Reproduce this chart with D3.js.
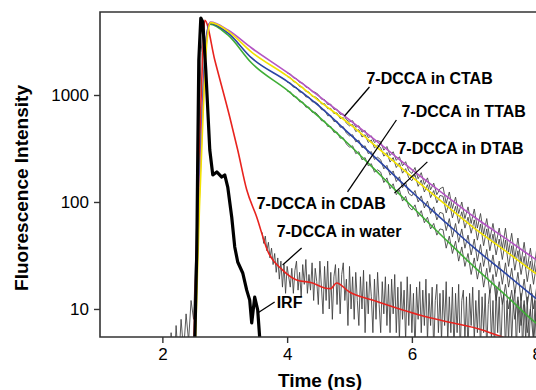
<!DOCTYPE html>
<html>
<head>
<meta charset="utf-8">
<script src="https://cdn.jsdelivr.net/npm/d3@7"></script>
<style>
  body { margin: 0; background: #fff; }
  svg { display: block; font-family: 'Liberation Sans', Arial, sans-serif; }
  .tick text { font-size: 17px; fill: #000; }
  .tick line, .domain { stroke: #333; }
  .title { font-size: 19px; font-weight: bold; }
  .note { font-size: 16px; font-weight: bold; }
</style>
</head>
<body>
<script>
'use strict'

const xTicks = [2, 4, 6, 8]
const yTicks = [10, 100, 1000]

// instrument response function (time ns, counts)
const irf = [[2.52, 5], [2.552, 36], [2.568, 306], [2.584, 2124], [2.616, 5240], [2.648, 4810],
  [2.696, 1713], [2.76, 306], [2.808, 179], [2.872, 191], [2.952, 171], [3.0, 179],
  [3.048, 138], [3.112, 72], [3.16, 38], [3.208, 27.5], [3.288, 21.7], [3.352, 15],
  [3.4, 12.1], [3.432, 7.4], [3.48, 12.9], [3.528, 9.8], [3.56, 5.4], [3.6, 4.5]]

// fitted decays (time ns, counts)
const fitWater = [[2.505, 5], [2.57, 104], [2.62, 898], [2.65, 2634], [2.68, 5000], [2.84, 2124],
  [3.08, 623], [3.208, 306], [3.352, 130], [3.512, 72.4], [3.688, 34.8], [3.928, 23.1],
  [4.152, 18.7], [4.408, 17.5], [4.6, 15.7], [4.7, 15.5], [4.792, 17.5], [5.0, 14.4],
  [5.368, 12.1], [5.752, 10.2], [6.12, 8.79], [6.584, 7.56], [7.128, 6.37], [7.448, 5.47], [7.72, 4.8]]
const fitCTAB = [[2.52, 5], [2.585, 90], [2.645, 700], [2.71, 3300], [2.77, 4800], [3.05, 4050],
  [3.43, 2750], [4, 1626], [4.5, 989], [5, 584], [5.5, 345], [6, 201], [6.5, 120], [7, 72.4],
  [7.5, 45.7], [8, 28.7], [8.2, 24.2]]
const fitTTAB = [[2.53, 5], [2.595, 90], [2.655, 700], [2.715, 3200], [2.775, 4750], [3.05, 3960],
  [3.43, 2520], [4, 1507], [4.5, 892], [5, 536], [5.5, 304], [6, 172], [6.5, 98.4], [7, 57.1],
  [7.5, 34.9], [8, 21.2], [8.2, 17.5]]
const fitCDAB = [[2.515, 5], [2.58, 90], [2.64, 700], [2.70, 3200], [2.76, 4700], [3.05, 3800],
  [3.43, 2220], [4, 1341], [4.5, 800], [5, 433], [5.5, 233], [6, 124], [6.5, 67.8], [7, 37.2],
  [7.5, 21.5], [8, 12.4], [8.2, 10]]
const fitDTAB = [[2.515, 5], [2.58, 90], [2.64, 700], [2.70, 3150], [2.76, 4600], [3.05, 3640],
  [3.43, 1990], [4, 1111], [4.5, 631], [5, 341], [5.5, 177], [6, 90.8], [6.5, 47.1], [7, 24.7],
  [7.5, 13.5], [8, 7.3], [8.2, 6]]

// measured counts, one value per channel
const riseT0 = 2.10
const riseStep = 0.04
const riseData = [1, 6, 2, 7, 3, 8, 4, 9, 5, 12, 8, 40, 300, 2500, 4600]

const waterT0 = 3.6
const waterStep = 0.025
const waterData = [52, 41, 48, 35, 42, 30, 37, 26, 33, 22, 30, 19, 28, 16, 26, 14, 25, 20, 16, 24,
  14, 23, 28, 15, 22, 13, 26, 17, 29, 14, 21, 15, 27, 12, 24, 18, 11, 28, 16, 9,
  25, 12, 28, 10, 22, 8, 20, 26, 11, 24, 9, 21, 27, 12, 19, 7, 25, 10, 20, 8,
  22, 12, 7, 20, 10, 23, 6, 18, 9, 21, 13, 6, 19, 8, 22, 11, 6, 18, 9, 20,
  7, 17, 6, 19, 9, 21, 6, 16, 5, 18, 8, 15, 5, 20, 7, 17, 6, 14, 4, 16,
  8, 18, 6, 15, 7, 19, 5, 14, 7, 16, 4, 12, 17, 6, 14, 5, 15, 7, 18, 5,
  13, 6, 16, 4, 14, 6, 17, 4, 12, 15, 5, 13, 4, 14, 7, 16, 5, 12, 6, 15,
  4, 13, 6, 14, 4, 11, 15, 5, 12, 4, 16, 6, 13, 4, 11, 14, 4, 12, 5, 13,
  5, 11, 15, 4, 12, 6, 14, 4, 11, 5, 13, 4, 10, 14, 5, 12, 4, 11, 5, 13,
  4, 10, 12, 5, 11]

const surfT0 = 4.0
const surfStep = 0.05
const dataCTAB = [1610, 1575, 1450, 1420, 1310, 1290, 1185, 1170, 1075, 1060,
  1010, 915, 905, 815, 820, 735, 735, 660, 665, 590,
  560, 575, 500, 515, 450, 465, 400, 415, 360, 375,
  365, 305, 330, 272, 295, 245, 265, 218, 238, 196,
  185, 210, 165, 188, 146, 168, 130, 150, 117, 133,
  138, 97, 124, 87, 111, 78, 100, 70, 90, 63,
  86, 57, 78, 50, 70, 45, 63, 41, 57, 37,
  57, 34, 51, 30, 46, 27, 42, 24, 37, 22,
  36, 21, 33, 19, 30]
const dataTTAB = [1490, 1455, 1335, 1310, 1200, 1180, 1080, 1065, 970, 960,
  915, 825, 830, 745, 750, 670, 680, 603, 615, 545,
  515, 530, 455, 475, 405, 425, 360, 380, 320, 340,
  322, 268, 290, 236, 260, 210, 232, 186, 205, 168,
  158, 180, 140, 160, 124, 145, 110, 128, 98, 115,
  113, 79, 101, 71, 91, 63, 81, 57, 72, 51,
  68, 44, 62, 39, 56, 35, 50, 32, 45, 29,
  44, 25, 39, 23, 35, 21, 31, 18, 28, 17,
  27, 15, 24, 13, 22]
const dataCDAB = [1320, 1300, 1185, 1175, 1065, 1060, 960, 955, 865, 860,
  820, 730, 725, 640, 645, 565, 570, 500, 505, 440,
  415, 425, 365, 378, 322, 335, 283, 296, 250, 262,
  248, 204, 220, 178, 195, 155, 172, 136, 152, 120,
  114, 128, 100, 114, 88, 102, 78, 90, 68, 80,
  78, 54, 70, 47, 63, 42, 56, 37, 49, 32,
  45, 28, 40, 25, 36, 22, 32, 20, 28, 17,
  27, 16, 24, 14, 22, 12, 19, 11, 17, 10,
  16, 9, 14, 8, 12]
const dataDTAB = [1090, 1075, 970, 960, 865, 860, 770, 770, 690, 690,
  648, 575, 573, 508, 508, 448, 450, 395, 398, 348,
  325, 335, 283, 295, 248, 260, 218, 228, 190, 200,
  190, 152, 168, 133, 148, 117, 130, 102, 113, 90,
  84, 94, 73, 83, 64, 72, 56, 63, 49, 56,
  55, 37, 48, 33, 43, 28, 38, 25, 33, 21,
  30, 19, 27, 16, 24, 14, 21, 12, 18, 11,
  17, 10, 15, 8, 13, 7, 12, 6, 10, 5,
  10, 6, 9, 5, 8]

// annotation text anchors and leader lines, in data units
const notes = [
  { text: '7-DCCA in CTAB', t: 5.272, v: 1267 },
  { text: '7-DCCA in TTAB', t: 5.832, v: 623 },
  { text: '7-DCCA in DTAB', t: 5.768, v: 281 },
  { text: '7-DCCA in CDAB', t: 3.512, v: 86 },
  { text: '7-DCCA in water', t: 3.832, v: 47.1 },
  { text: 'IRF', t: 3.832, v: 10.2 }
]
const leaders = [
  [[5.32, 1188], [4.92, 637]],
  [[5.752, 584], [4.968, 124]],
  [[6.248, 237], [5.72, 121]],
  [[4.232, 37.2], [3.928, 25.8]],
  [[3.8, 11.6], [3.528, 9.18]]
]

const width = 536
const height = 390
const margin = { top: 12, left: 100, bottom: 53 }
const plotRight = 546

const svg = d3.select('body').append('svg')
  .attr('width', width)
  .attr('height', height)

const scaleX = d3.scaleLinear().domain([1, 8.15]).range([margin.left, plotRight])
const scaleY = d3.scaleLog().domain([5.47, 5968]).range([height - margin.bottom, margin.top])

svg.append('clipPath').attr('id', 'clip')
  .append('rect')
  .attr('x', margin.left).attr('y', margin.top)
  .attr('width', plotRight - margin.left)
  .attr('height', height - margin.bottom - margin.top)

const line = d3.line()
  .x(function (d) { return scaleX(d[0]) })
  .y(function (d) { return scaleY(d[1]) })
const smooth = d3.line()
  .curve(d3.curveMonotoneX)
  .x(function (d) { return scaleX(d[0]) })
  .y(function (d) { return scaleY(d[1]) })

function channels (t0, step, counts) {
  return counts.map(function (c, i) { return [t0 + i * step, c] })
}

const panel = svg.append('g').attr('clip-path', 'url(#clip)')

const measured = [
  channels(riseT0, riseStep, riseData),
  channels(waterT0, waterStep, waterData),
  channels(surfT0, surfStep, dataDTAB),
  channels(surfT0, surfStep, dataCDAB),
  channels(surfT0, surfStep, dataTTAB),
  channels(surfT0, surfStep, dataCTAB)
]
panel.selectAll('path.raw')
  .data(measured)
  .enter()
  .append('path')
  .attr('class', 'raw')
  .attr('d', line)
  .attr('fill', 'none')
  .attr('stroke', '#3c3c3c')
  .attr('stroke-width', 0.85)

const fits = [
  { data: fitWater, color: '#e8231e' },
  { data: fitDTAB, color: '#3fae36' },
  { data: fitCDAB, color: '#2a44a4' },
  { data: fitCTAB, color: '#b455c4' },
  { data: fitTTAB, color: '#f2e300' }
]
panel.selectAll('path.fit')
  .data(fits)
  .enter()
  .append('path')
  .attr('class', 'fit')
  .attr('d', function (d) { return smooth(d.data) })
  .attr('fill', 'none')
  .attr('stroke', function (d) { return d.color })
  .attr('stroke-width', 1.6)

panel.append('path')
  .attr('d', line(irf))
  .attr('fill', 'none')
  .attr('stroke', '#000')
  .attr('stroke-width', 3.2)
  .attr('stroke-linejoin', 'round')

// frame
svg.append('path')
  .attr('d', 'M' + plotRight + ',' + margin.top + 'H' + margin.left +
    'V' + (height - margin.bottom) + 'H' + plotRight)
  .attr('fill', 'none')
  .attr('stroke', '#333')
  .attr('stroke-width', 1.6)

const axisX = d3.axisBottom(scaleX).tickValues(xTicks).tickSize(6).tickPadding(5)
  .tickFormat(d3.format('d'))
const axisY = d3.axisLeft(scaleY).tickValues(yTicks).tickSize(6).tickPadding(5)
  .tickFormat(d3.format('d'))

svg.append('g')
  .attr('transform', 'translate(0,' + (height - margin.bottom) + ')')
  .call(axisX)
  .call(function (g) { g.select('.domain').remove() })
  .call(function (g) { g.selectAll('line').attr('stroke-width', 1.4) })
svg.append('g')
  .attr('transform', 'translate(' + margin.left + ',0)')
  .call(axisY)
  .call(function (g) { g.select('.domain').remove() })
  .call(function (g) { g.selectAll('line').attr('stroke-width', 1.4) })
svg.selectAll('.tick text').attr('font-family', null).attr('font-size', null)

svg.append('text')
  .attr('class', 'title')
  .attr('text-anchor', 'middle')
  .attr('x', 320)
  .attr('y', 387)
  .text('Time (ns)')
svg.append('text')
  .attr('class', 'title')
  .attr('text-anchor', 'middle')
  .attr('transform', 'translate(28,' + 188 + ') rotate(-90)')
  .text('Fluorescence Intensity')

svg.selectAll('text.note')
  .data(notes)
  .enter()
  .append('text')
  .attr('class', 'note')
  .attr('x', function (d) { return scaleX(d.t) })
  .attr('y', function (d) { return scaleY(d.v) })
  .text(function (d) { return d.text })

svg.selectAll('path.leader')
  .data(leaders)
  .enter()
  .append('path')
  .attr('class', 'leader')
  .attr('d', line)
  .attr('stroke', '#000')
  .attr('stroke-width', 1.3)
</script>
</body>
</html>
